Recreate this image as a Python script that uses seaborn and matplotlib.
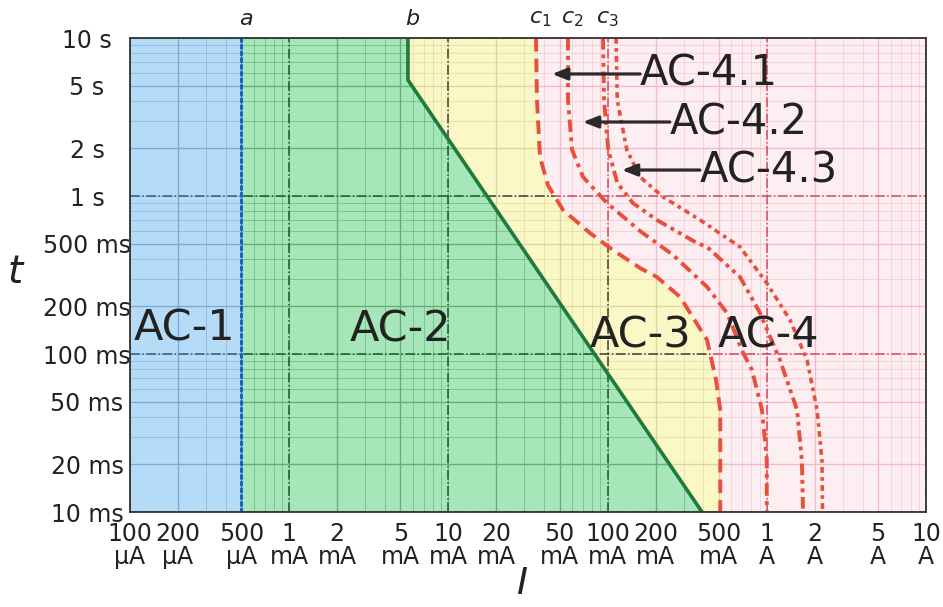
import numpy as np
import pandas as pd
import matplotlib
matplotlib.use("Agg")
import matplotlib.pyplot as plt
import seaborn as sns

sns.set_style("white")
plt.rcParams["font.family"] = ["DejaVu Sans"]
plt.rcParams["mathtext.fontset"] = "dejavusans"

# ---------------- data (current in A, time in s) ----------------
x_ticks = [1e-4, 2e-4, 5e-4, 1e-3, 2e-3, 5e-3, 1e-2, 2e-2, 5e-2, 0.1, 0.2, 0.5, 1, 2, 5, 10]
x_labels = ["100\nµA", "200\nµA", "500\nµA", "1\nmA", "2\nmA", "5\nmA", "10\nmA", "20\nmA",
            "50\nmA", "100\nmA", "200\nmA", "500\nmA", "1\nA", "2\nA", "5\nA", "10\nA"]
y_ticks = [10, 5, 2, 1, 0.5, 0.2, 0.1, 0.05, 0.02, 0.01]
y_labels = ["10 s", "5 s", "2 s", "1 s", "500 ms", "200 ms", "100 ms", "50 ms", "20 ms", "10 ms"]

a_I = [5.0e-4, 5.0e-4]
a_t = [10, 0.01]

b_I = [5.57e-3, 5.57e-3, 0.392]
b_t = [10, 5.42, 0.01]

c1_I = [0.0355, 0.0360, 0.0376, 0.0422, 0.0525, 0.0775, 0.108, 0.160, 0.204, 0.285, 0.421, 0.480, 0.51, 0.51]
c1_t = [10, 4.05, 1.77, 1.17, 0.815, 0.583, 0.455, 0.350, 0.307, 0.230, 0.123, 0.0685, 0.0442, 0.01]

c2_I = [0.0564, 0.0564, 0.0598, 0.0701, 0.0991, 0.160, 0.258, 0.421, 0.562, 0.709, 0.807, 0.933, 1.0, 1.0]
c2_t = [10, 4.05, 1.96, 1.32, 0.903, 0.600, 0.423, 0.266, 0.182, 0.102, 0.0792, 0.0442, 0.0213, 0.01]

c3_I = [0.0936, 0.0949, 0.101, 0.115, 0.144, 0.204, 0.364, 0.421, 0.679, 0.906, 1.21, 1.55, 1.66, 1.69]
c3_t = [10, 4.05, 1.96, 1.21, 0.903, 0.705, 0.504, 0.476, 0.307, 0.182, 0.0916, 0.0442, 0.0213, 0.01]

c4_I = [0.113, 0.115, 0.132, 0.160, 0.223, 0.381, 0.679, 1.0, 1.40, 1.79, 2.07, 2.22, 2.24]
c4_t = [10, 4.05, 1.96, 1.32, 0.986, 0.705, 0.476, 0.281, 0.164, 0.0916, 0.0442, 0.0213, 0.01]

zone_names = ["AC-1", "AC-2", "AC-3", "AC-4"]
zone_label_I = [2.2e-4, 4.97e-3, 0.160, 1.02]
zone_label_t = [0.146, 0.142, 0.131, 0.131]

sub_names = ["AC-4.1", "AC-4.2", "AC-4.3"]
sub_tip_I = [0.0448, 0.070, 0.123]
sub_tip_t = [5.92, 2.94, 1.46]
sub_text_I = [0.160, 0.246, 0.380]

curve_names = ["a", "b", r"$c_{\mathit{1}}$", r"$c_{\mathit{2}}$", r"$c_{\mathit{3}}$"]

# ---------------- figure ----------------
W, H = 943, 607
fig = plt.figure(figsize=(W / 100, H / 100), dpi=100)
ax = fig.add_axes([130 / W, 1 - 512 / H, 796 / W, 474 / H])
ax.set_xscale("log")
ax.set_yscale("log")
XMIN, XMAX = x_ticks[0], x_ticks[-1]
TMIN, TMAX = y_ticks[-1], y_ticks[0]
ax.set_xlim(XMIN, XMAX)
ax.set_ylim(TMIN, TMAX)

t_grid = np.logspace(np.log10(TMIN), np.log10(TMAX), 800)


def on_grid(I, t):
    I = np.asarray(I, float)
    t = np.asarray(t, float)
    o = np.argsort(t)
    return 10 ** np.interp(np.log10(t_grid), np.log10(t[o]), np.log10(I[o]))


Ia, Ib, Ic1 = on_grid(a_I, a_t), on_grid(b_I, b_t), on_grid(c1_I, c1_t)
left = np.full_like(t_grid, XMIN)
right = np.full_like(t_grid, XMAX)

zones = [
    (left, Ia, "#b6dbf7", "#7aa6d4", "#2c5a8c", 0.55),
    (Ia, Ib, "#a6e6b8", "#5fae76", "#1d5330", 0.6),
    (Ib, Ic1, "#fcf8c6", "#d8d4a4", "#3a3a3a", 0.6),
    (Ic1, right, "#fdeef2", "#f0b4c2", "#d0485a", 0.45),
]

minor_x = [m * 10.0 ** k for k in range(-4, 1) for m in range(1, 10)] + [10]
minor_t = [m * 10.0 ** k for k in range(-2, 1) for m in range(1, 10)] + [10]
dec_x = [10.0 ** k for k in range(-4, 2)]
dec_t = [10.0 ** k for k in range(-2, 2)]
mid_x = [m * 10.0 ** k for k in range(-4, 1) for m in (2, 5)]
mid_t = [m * 10.0 ** k for k in range(-2, 1) for m in (2, 5)]

for x0, x1, fc, gc, mc, al in zones:
    poly = ax.fill_betweenx(t_grid, x0, x1, color=fc, lw=0, zorder=1)
    path = poly.get_paths()[0]
    cols = [
        ax.vlines(minor_x, TMIN, TMAX, colors=gc, lw=0.7, alpha=al, zorder=1.2),
        ax.hlines(minor_t, XMIN, XMAX, colors=gc, lw=0.7, alpha=al, zorder=1.2),
        ax.vlines(mid_x, TMIN, TMAX, colors=gc, lw=1.0, alpha=min(1, al + 0.3), zorder=1.3),
        ax.hlines(mid_t, XMIN, XMAX, colors=gc, lw=1.0, alpha=min(1, al + 0.3), zorder=1.3),
        ax.vlines(dec_x, TMIN, TMAX, colors=mc, lw=1.1, linestyles="dashdot", zorder=1.4),
        ax.hlines(dec_t, XMIN, XMAX, colors=mc, lw=1.1, linestyles="dashdot", zorder=1.4),
    ]
    for c in cols:
        c.set_clip_path(path, ax.transData)

# ---------------- curves ----------------
red = "#ea4f3c"
curves = [
    (a_I, a_t, "#1b5ec9", (0, (1, 1.2)), 2.2),
    (b_I, b_t, "#1f7a3c", "-", 2.6),
    (c1_I, c1_t, red, (0, (3.5, 1.8)), 2.8),
    (c2_I, c2_t, red, (0, (3.2, 1.4, 1, 1.4)), 2.8),
    (c3_I, c3_t, red, (0, (3, 1.2, 1, 1.2, 1, 1.2)), 2.8),
    (c4_I, c4_t, red, (0, (1.6, 1.2, 1, 1.2)), 2.6),
]
for I, t, col, ls, lw in curves:
    df = pd.DataFrame({"I": I, "t": t})
    sns.lineplot(data=df, x="I", y="t", sort=False, estimator=None, ax=ax,
                 color=col, linestyle=ls, lw=lw, zorder=3, solid_capstyle="butt",
                 dash_capstyle="round" if col == "#1b5ec9" else "butt")

# curve labels above the frame
curve_top = [a_I[0], b_I[0], c1_I[0], c2_I[0], c3_I[0]]
for name, xi in zip(curve_names, curve_top):
    ax.annotate(name, xy=(xi, 1.0), xycoords=("data", "axes fraction"),
                xytext=(3, 14), textcoords="offset points", ha="center", va="center",
                fontsize=16, style="italic", color="#222222")

# zone labels
for name, xi, ti in zip(zone_names, zone_label_I, zone_label_t):
    ax.text(xi, ti, name, fontsize=31, ha="center", va="center", color="#222222", zorder=5)

# AC-4.x labels with arrows
for name, tipI, tipt, txI in zip(sub_names, sub_tip_I, sub_tip_t, sub_text_I):
    ax.annotate("", xy=(tipI, tipt), xytext=(txI, tipt),
                arrowprops=dict(arrowstyle="-|>,head_length=0.45,head_width=0.18",
                                lw=2.3, color="#2a2a2a", shrinkA=0, shrinkB=0,
                                mutation_scale=20), zorder=5)
    ax.text(txI, tipt, name, fontsize=30, ha="left", va="center", color="#222222", zorder=5)

# ---------------- axes styling ----------------
ax.set_xticks(x_ticks)
ax.set_xticklabels(x_labels, fontsize=17, color="#222222", linespacing=0.95)
ax.set_yticks(y_ticks)
ax.set_yticklabels(y_labels, fontsize=17, color="#222222")
ax.minorticks_off()
ax.tick_params(axis="x", length=0, pad=7)
ax.tick_params(axis="y", length=0, pad=31)
for lab in ax.get_yticklabels():
    lab.set_horizontalalignment("center")
ax.set_xlabel("")
ax.set_ylabel("")
for s in ax.spines.values():
    s.set_color("#333333")
    s.set_linewidth(1.3)
    s.set_zorder(6)

fig.text(15 / W, 1 - 272 / H, "t", fontsize=28, style="italic", ha="center", va="center", color="#222222")
fig.text(522 / W, 1 - 584 / H, "I", fontsize=27, style="italic", ha="center", va="center", color="#222222")

fig.savefig("out.png", dpi=100)
